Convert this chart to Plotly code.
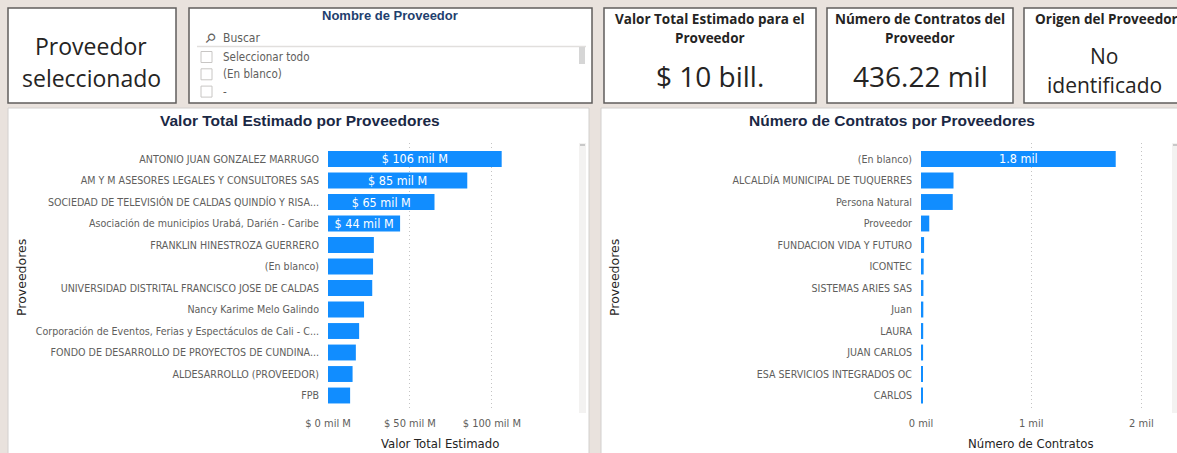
import plotly.graph_objects as go

W, H = 1177, 453

# ---------------- data ----------------
prov_valor = [
    "ANTONIO JUAN GONZALEZ MARRUGO",
    "AM Y M ASESORES LEGALES Y CONSULTORES SAS",
    "SOCIEDAD DE TELEVISIÓN DE CALDAS QUINDÍO Y RISA...",
    "Asociación de municipios Urabá, Darién - Caribe",
    "FRANKLIN HINESTROZA GUERRERO",
    "(En blanco)",
    "UNIVERSIDAD DISTRITAL FRANCISCO JOSE DE CALDAS",
    "Nancy Karime Melo Galindo",
    "Corporación de Eventos, Ferias y Espectáculos de Cali - C...",
    "FONDO DE DESARROLLO DE PROYECTOS DE CUNDINA...",
    "ALDESARROLLO (PROVEEDOR)",
    "FPB",
]
valor_milM = [106, 85, 65, 44, 28, 27.5, 27, 22, 19, 17, 15, 13.5]
valor_labels = ["$ 106 mil M", "$ 85 mil M", "$ 65 mil M", "$ 44 mil M", "", "", "", "", "", "", "", ""]
valor_ticks = [0, 50, 100]
valor_ticktext = ["$ 0 mil M", "$ 50 mil M", "$ 100 mil M"]

prov_contratos = [
    "(En blanco)",
    "ALCALDÍA MUNICIPAL DE TUQUERRES",
    "Persona Natural",
    "Proveedor",
    "FUNDACION VIDA Y FUTURO",
    "ICONTEC",
    "SISTEMAS ARIES SAS",
    "Juan",
    "LAURA",
    "JUAN CARLOS",
    "ESA SERVICIOS INTEGRADOS OC",
    "CARLOS",
]
contratos = [1767, 295, 288, 75, 28, 24, 22, 21, 20, 19, 18, 17]
contratos_labels = ["1.8 mil", "", "", "", "", "", "", "", "", "", "", ""]
contr_ticks = [0, 1000, 2000]
contr_ticktext = ["0 mil", "1 mil", "2 mil"]

card_values = ["$ 10 bill.", "436.22 mil"]
slicer_items = ["Seleccionar todo", "(En blanco)", "-"]

# ---------------- helpers ----------------
BG = "#E9E2DD"
BAR = "#118DFF"
LBL = "#605E5C"
DARK = "#252423"
NARROW = "Liberation Sans Narrow, DejaVu Sans Condensed, Arial Narrow, sans-serif"
SEGOE = "Segoe UI, Open Sans, Noto Sans, sans-serif"


def px(x):
    return x / W


def py(y):
    return 1 - y / H


shapes = []
annots = []


def rect(x0, y0, x1, y1, fill="white", line="#605E5C", lw=1.5):
    shapes.append(dict(type="rect", xref="paper", yref="paper",
                       x0=px(x0), x1=px(x1), y0=py(y1), y1=py(y0),
                       fillcolor=fill, line=dict(color=line, width=lw), layer="below"))


def text(x, y, s, size, color=DARK, family=SEGOE, xanchor="center", bold=False, textangle=0):
    if bold:
        s = "<b>" + s + "</b>"
    annots.append(dict(xref="paper", yref="paper", x=px(x), y=py(y), text=s,
                       showarrow=False, xanchor=xanchor, yanchor="middle",
                       textangle=textangle,
                       font=dict(size=size, color=color, family=family)))


# ---------------- top cards ----------------
rect(8, 8, 176, 103)
text(91, 46, "Proveedor", 23)
text(91, 78, "seleccionado", 23)

rect(189, 8, 592, 103)
text(390, 16, "Nombre de Proveedor", 13, color="#1F3F6E", family="Liberation Sans, Arial, sans-serif", bold=True)
text(198, 38, "⚲", 13, color=LBL, xanchor="left", textangle=45)
text(221, 38, "Buscar", 12, color=LBL, xanchor="left", family=NARROW)
shapes.append(dict(type="line", xref="paper", yref="paper", x0=px(197), x1=px(586),
                   y0=py(46.5), y1=py(46.5), line=dict(color="#E1DFDD", width=1.5)))
shapes.append(dict(type="rect", xref="paper", yref="paper", x0=px(579), x1=px(585),
                   y0=py(64), y1=py(47), fillcolor="#D6D6D6", line=dict(width=0)))
for i, item in enumerate(slicer_items):
    yc = 57 + i * 17.3
    shapes.append(dict(type="rect", xref="paper", yref="paper", x0=px(201), x1=px(212),
                       y0=py(yc + 5.5), y1=py(yc - 5.5), fillcolor="white",
                       line=dict(color="#C8C6C4", width=1)))
    text(221, yc, item, 11.5, color=LBL, xanchor="left", family=NARROW)

rect(604, 8, 816, 103)
text(710, 19, "Valor Total Estimado para el", 13.5, bold=True)
text(710, 38, "Proveedor", 13.5, bold=True)
text(710, 76, card_values[0], 28)

rect(827, 8, 1013, 103)
text(920, 19, "Número de Contratos del", 13.5, bold=True)
text(920, 38, "Proveedor", 13.5, bold=True)
text(920, 76, card_values[1], 28)

rect(1024, 8, 1200, 103)
text(1033, 19, "Origen del Proveedor", 13.5, bold=True, xanchor="left")
text(1104, 56, "No", 21)
text(1104, 85, "identificado", 21)

# ---------------- chart panels ----------------
rect(8, 108, 589, 470, line="#D2D0CE", lw=1)
rect(601, 108, 1190, 470, line="#D2D0CE", lw=1)

text(300, 120, "Valor Total Estimado por Proveedores", 15.5, color="#1A2844",
     family="Liberation Sans, Arial, sans-serif", bold=True)
text(892, 120, "Número de Contratos por Proveedores", 15.5, color="#1A2844",
     family="Liberation Sans, Arial, sans-serif", bold=True)

text(21, 278, "Proveedores", 12.5, color=DARK, family="DejaVu Sans, sans-serif", textangle=-90)
text(614, 278, "Proveedores", 12.5, color=DARK, family="DejaVu Sans, sans-serif", textangle=-90)
text(440, 443, "Valor Total Estimado", 13, color=DARK, family=NARROW)
text(1031, 443, "Número de Contratos", 13, color=DARK, family=NARROW)

# scrollbars
for sx in (579, 1172):
    shapes.append(dict(type="rect", xref="paper", yref="paper", x0=px(sx), x1=px(sx + 7),
                       y0=py(413), y1=py(143), fillcolor="#F3F2F1", line=dict(width=0)))
    shapes.append(dict(type="rect", xref="paper", yref="paper", x0=px(sx + 1), x1=px(sx + 6),
                       y0=py(146), y1=py(144), fillcolor="#C8C8C8", line=dict(width=0)))

# ---------------- bars ----------------
fig = go.Figure()
fig.add_trace(go.Bar(
    x=valor_milM, y=prov_valor, orientation="h", marker=dict(color=BAR, line=dict(width=0)),
    width=0.74, text=valor_labels, textposition="inside", insidetextanchor="middle",
    constraintext="none",
    textfont=dict(color="white", size=12.5, family=NARROW), cliponaxis=False,
    xaxis="x", yaxis="y", hoverinfo="x+y"))
fig.add_trace(go.Bar(
    x=contratos, y=prov_contratos, orientation="h", marker=dict(color=BAR, line=dict(width=0)),
    width=0.74, text=contratos_labels, textposition="inside", insidetextanchor="middle",
    constraintext="none",
    textfont=dict(color="white", size=12.5, family=NARROW), cliponaxis=False,
    xaxis="x2", yaxis="y2", hoverinfo="x+y"))

ydom = [py(411), py(143)]
yrange = [11.72, -0.744]
common_x = dict(showgrid=True, gridcolor="#C4C4C4", griddash="1px,3px", gridwidth=1,
                zeroline=False, showline=False, ticks="", automargin=False,
                ticklabelstandoff=4,
                tickfont=dict(size=11, color=LBL, family=NARROW), fixedrange=True)
common_y = dict(type="category", range=yrange, showgrid=False, zeroline=False, showline=False,
                ticks="", ticklabelstandoff=8, automargin=False,
                tickfont=dict(size=10.6, color=LBL, family=NARROW), fixedrange=True)

fig.update_layout(
    template="none",
    width=W, height=H, margin=dict(l=0, r=0, t=0, b=0, pad=0),
    paper_bgcolor=BG, plot_bgcolor="rgba(0,0,0,0)",
    showlegend=False, bargap=0.26,
    xaxis=dict(domain=[px(328), px(541)], range=[0, 130], tickvals=valor_ticks,
               ticktext=valor_ticktext, anchor="y", **common_x),
    yaxis=dict(domain=ydom, anchor="x", **common_y),
    xaxis2=dict(domain=[px(921), px(1162)], range=[0, 2187], tickvals=contr_ticks,
                ticktext=contr_ticktext, anchor="y2", **common_x),
    yaxis2=dict(domain=ydom, anchor="x2", **common_y),
    shapes=shapes, annotations=annots,
)

fig.write_html("out.html", config={"displayModeBar": False},
               post_script="document.body.style.margin='0';document.body.style.overflow='hidden';")
